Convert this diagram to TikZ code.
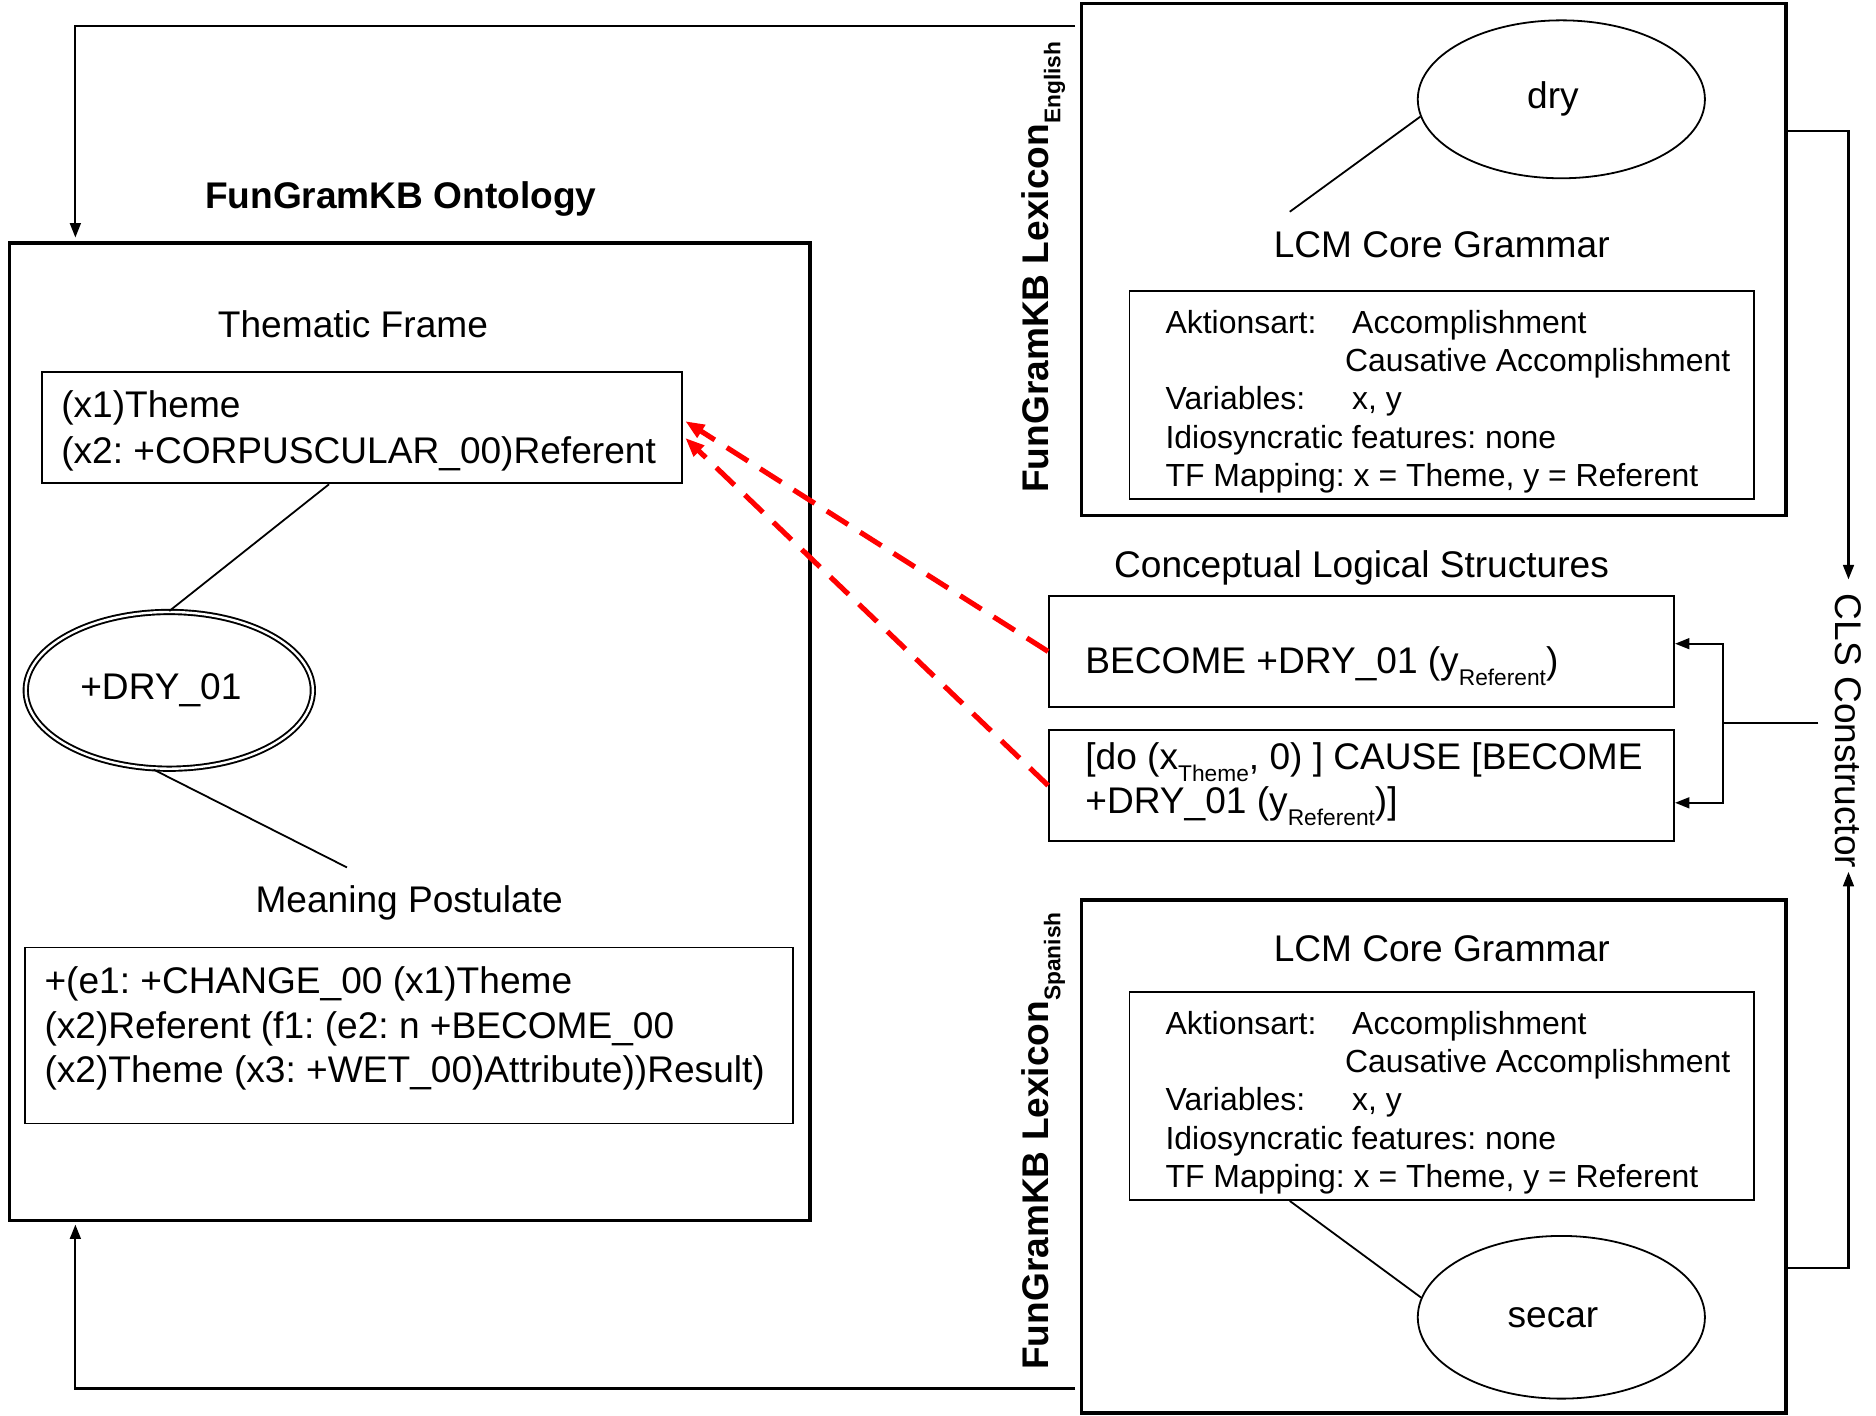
\documentclass[tikz,border=0pt]{standalone}
\usepackage{fontspec}
\setmainfont{Liberation Sans}
\usetikzlibrary{arrows.meta,calc,shapes.geometric}
% lowered, smaller text for subscripts
\newcommand{\sbs}[1]{\raisebox{-0.33em}{\fontsize{19}{19}\selectfont #1}}

\begin{document}
\frenchspacing
\begin{tikzpicture}[x=1pt,y=-1pt,
  txt/.style={inner sep=0pt, font=\fontsize{31}{37}\selectfont, anchor=base west},
  ttl/.style={inner sep=0pt, font=\fontsize{31}{37}\selectfont, anchor=base},
  small/.style={inner sep=0pt, font=\fontsize{26.7}{32}\selectfont, anchor=base west},
  outerbox/.style={draw, line width=3pt, rectangle, inner sep=0pt},
  innerbox/.style={draw, line width=1.5pt, rectangle, inner sep=0pt},
  clsbox/.style={draw, line width=2pt, rectangle, inner sep=0pt, minimum width=522pt, minimum height=93pt},
  oval/.style={draw, ellipse, line width=1.5pt, inner sep=0pt, font=\fontsize{31}{37}\selectfont},
  vlabel/.style={inner sep=0pt, anchor=base west, rotate=90, font=\bfseries\fontsize{31}{37}\selectfont},
  link/.style={line width=1.5pt},
  arr/.style={line width=1.8pt, -{Triangle[length=12pt,width=9pt]}},
  redarr/.style={red, line width=4.3pt, dash pattern=on 21pt off 12pt, -{Triangle[length=16pt,width=12pt]}}
]
\useasboundingbox (0,0) rectangle (1568,1183);

% ---------------- Ontology ----------------
\node[outerbox, minimum width=669pt, minimum height=817pt] (ont) at (342.5,611.5) {};
\node[ttl, font=\bfseries\fontsize{31}{37}\selectfont] (ontttl) at (335,174) {FunGramKB Ontology};
\node[ttl] (tfttl) at (295,282) {Thematic Frame};
\node[innerbox, minimum width=535pt, minimum height=93pt] (tfbox) at (302.5,357.5) {};
\node[txt] (tf1) at (51,349) {(x1)Theme};
\node[txt] (tf2) at (51,387) {(x2: +CORPUSCULAR\_00)Referent};
\node[oval, double, double distance=2pt, line width=1.6pt,
      minimum width=240pt, minimum height=131pt] (dry01) at (141.5,577) {\hspace*{-14pt}+DRY\_01};
\node[ttl] (mpttl) at (342,763) {Meaning Postulate};
\node[innerbox, minimum width=642pt, minimum height=147pt] (mpbox) at (342,865.5) {};
\node[txt] (mp1) at (37,830) {+(e1: +CHANGE\_00 (x1)Theme};
\node[txt] (mp2) at (37,868) {(x2)Referent (f1: (e2: n +BECOME\_00};
\node[txt] (mp3) at (37,905) {(x2)Theme (x3: +WET\_00)Attribute))Result)};

\draw[link] ($(tfbox.south)+(-27.5,0)$) -- (dry01.north);
\coordinate (mpend) at (290,725);
\draw[link] ($(dry01.south)+(-13,0)$) -- (mpend);

% ---------------- English lexicon ----------------
\node[outerbox, minimum width=589pt, minimum height=428pt] (engbox) at (1198.5,217) {};
\node[vlabel] (englbl) at (876,412) {FunGramKB Lexicon\sbs{English}};
\node[oval, minimum width=240pt, minimum height=132pt] (dry) at (1305,83) {\hspace*{-14pt}dry};
\node[ttl] (englcm) at (1205,215) {LCM Core Grammar};
\node[innerbox, minimum width=522pt, minimum height=174pt] (engin) at (1205,330) {};
\node[small] (ea1) at (974,278.5) {Aktionsart:};
\node[small] (ea2) at (1130,278.5) {Accomplishment};
\node[small] (ea3) at (1124,310.5) {Causative Accomplishment};
\node[small] (ev1) at (974,342.5) {Variables:};
\node[small] (ev2) at (1130,342.5) {x, y};
\node[small] (ei) at (974,374.5) {Idiosyncratic features: none};
\node[small] (et) at (974,406.5) {TF Mapping: x = Theme, y = Referent};
\coordinate (engend) at (1078,177);
\draw[link] (dry.187) -- (engend);

% ---------------- Spanish lexicon ----------------
\node[outerbox, minimum width=589pt, minimum height=429pt] (spabox) at (1198.5,966.5) {};
\node[vlabel] (spalbl) at (876,1145) {FunGramKB Lexicon\sbs{Spanish}};
\node[ttl] (spalcm) at (1205,804) {LCM Core Grammar};
\node[innerbox, minimum width=522pt, minimum height=174pt] (spain) at (1205,916) {};
\node[small] (sa1) at (974,864.5) {Aktionsart:};
\node[small] (sa2) at (1130,864.5) {Accomplishment};
\node[small] (sa3) at (1124,896.5) {Causative Accomplishment};
\node[small] (sv1) at (974,928.5) {Variables:};
\node[small] (sv2) at (1130,928.5) {x, y};
\node[small] (si) at (974,960.5) {Idiosyncratic features: none};
\node[small] (st) at (974,992.5) {TF Mapping: x = Theme, y = Referent};
\node[oval, minimum width=240pt, minimum height=136pt] (secar) at (1305,1101) {\hspace*{-14pt}secar};
\draw[link] ($(spain.south)+(-127,0)$) -- (secar.172);

% ---------------- Conceptual logical structures ----------------
\node[ttl] (clsttl) at (1138,483) {Conceptual Logical Structures};
\node[clsbox] (cls1) at (1138,544.5) {};
\node[txt] (c1) at (907,563) {BECOME +DRY\_01 (y\sbs{Referent})};
\node[clsbox] (cls2) at (1138,656.5) {};
\node[txt] (c2a) at (907,643) {[do (x\sbs{Theme}, 0) ] CAUSE [BECOME};
\node[txt] (c2b) at (907,680) {+DRY\_01 (y\sbs{Referent})]};

\node[rotate=-90, inner xsep=12pt, inner ysep=14pt, font=\fontsize{31}{37}\selectfont] (clsc) at (1545,611) {CLS Constructor};
\coordinate (jn) at (1440,604);
\draw[link] (clsc.south |- jn) -- (jn);
\draw[arr] (jn) |- ($(cls1.east)+(0,-6.5)$);
\draw[arr] (jn) |- ($(cls2.east)+(0,14.5)$);

% ---------------- loops between the lexicons, the constructor and the ontology ----------------
\draw[arr] ($(engbox.north east)+(0,108)$) -| (clsc.west);
\draw[arr] ($(spabox.south east)+(0,-123)$) -| ($(clsc.east)+(0,-9)$);
\draw[arr, shorten >=3pt] ($(engbox.north west)+(-4,20.5)$) -| ($(ont.north west)+(56.5,0)$);
\draw[arr, shorten >=2pt] ($(spabox.south west)+(-4,-22)$) -| ($(ont.south west)+(56.5,0)$);

% ---------------- mapping from the structures to the thematic frame ----------------
\draw[redarr] (cls1.west) -- ($(tfbox.east)+(2,-5.5)$);
\draw[redarr] (cls2.west) -- ($(tfbox.east)+(2,8.5)$);
\end{tikzpicture}
\end{document}
